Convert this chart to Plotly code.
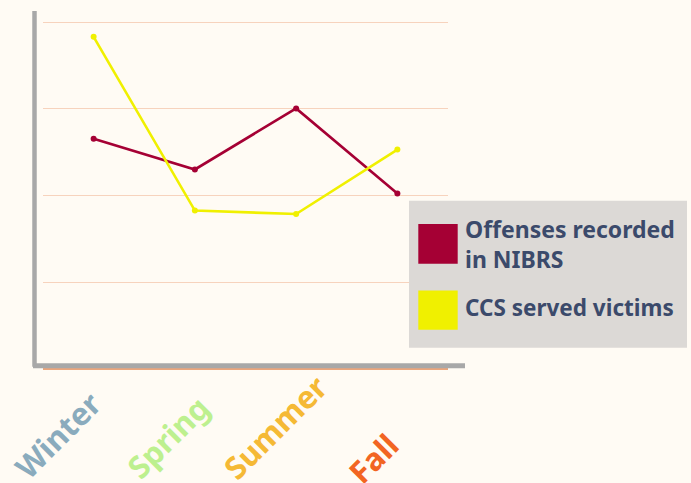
import plotly.graph_objects as go

# ---- data ----
seasons = ["Winter", "Spring", "Summer", "Fall"]
nibrs_offenses = [132.8, 115.1, 150.3, 101.3]
ccs_victims = [191.6, 91.4, 89.4, 126.6]
series_names = ["Offenses recorded<br>in NIBRS", "CCS served victims"]

# ---- style ----
BG = "#fffbf4"
RED = "#a50034"
YELLOW = "#f0f000"
GRID = "#f7d3bd"
ZERO = "#eba67c"
AXIS_GREY = "#a8a8a8"
LEGEND_BG = "#dcd9d6"
LEGEND_TXT = "#3b4a6b"
season_colors = ["#8aabbd", "#bdf08f", "#f5b935", "#f26522"]
FONT = "Noto Sans"

fig = go.Figure()
fig.add_trace(go.Scatter(x=seasons, y=nibrs_offenses, mode="lines+markers",
                         line=dict(color=RED, width=2.6), marker=dict(color=RED, size=6),
                         name=series_names[0], showlegend=False))
fig.add_trace(go.Scatter(x=seasons, y=ccs_victims, mode="lines+markers",
                         line=dict(color=YELLOW, width=2.6), marker=dict(color=YELLOW, size=6),
                         name=series_names[1], showlegend=False))

W, H = 691, 483
L, R, T = 43, 243, 20
ZERO_Y = 369.3
B = H - ZERO_Y
pw, ph = W - L - R, ZERO_Y - T
# 200 units span from y=369.3 to y=22.3
y_top = 200 * ph / (ZERO_Y - 22.3)


def px_x(p):
    return (p - L) / pw


def px_y(p):
    return (ZERO_Y - p) / ph


shapes = [
    # grey axis lines
    dict(type="line", xref="paper", yref="paper", x0=px_x(34.5), x1=px_x(34.5),
         y0=px_y(367), y1=px_y(11), line=dict(color=AXIS_GREY, width=4.5), layer="above"),
    dict(type="line", xref="paper", yref="paper", x0=px_x(33), x1=px_x(465),
         y0=px_y(366), y1=px_y(366), line=dict(color=AXIS_GREY, width=5), layer="above"),
    # legend box
    dict(type="rect", xref="paper", yref="paper", x0=px_x(409), x1=px_x(687),
         y0=px_y(348), y1=px_y(201), fillcolor=LEGEND_BG, line=dict(width=0), layer="above"),
    dict(type="rect", xref="paper", yref="paper", x0=px_x(418.3), x1=px_x(457.7),
         y0=px_y(264), y1=px_y(224.3), fillcolor=RED, line=dict(width=0), layer="above"),
    dict(type="rect", xref="paper", yref="paper", x0=px_x(418.3), x1=px_x(457.7),
         y0=px_y(330), y1=px_y(290.7), fillcolor=YELLOW, line=dict(width=0), layer="above"),
]

annotations = [
    dict(xref="paper", yref="paper", x=px_x(463), y=px_y(244), xanchor="left", yanchor="middle",
         text=series_names[0], showarrow=False, align="left",
         font=dict(family=FONT, size=23, color=LEGEND_TXT, weight="bold")),
    dict(xref="paper", yref="paper", x=px_x(463), y=px_y(308), xanchor="left", yanchor="middle",
         text=series_names[1], showarrow=False, align="left",
         font=dict(family=FONT, size=22.5, color=LEGEND_TXT, weight="bold")),
]

label_offsets = [(-36, -66), (-27, -68), (-21, -58), (-24, -89)]
for s, c, (dx, dy) in zip(seasons, season_colors, label_offsets):
    annotations.append(dict(xref="x", yref="paper", x=s, y=0, xshift=dx, yshift=dy,
                            xanchor="center", yanchor="middle", textangle=-45,
                            text=s, showarrow=False, borderpad=0,
                            font=dict(family=FONT, size=31, color=c, weight="bold")))

fig.update_layout(
    width=W, height=H,
    margin=dict(l=L, r=R, t=T, b=B, pad=0),
    paper_bgcolor=BG, plot_bgcolor=BG,
    shapes=shapes, annotations=annotations,
    xaxis=dict(range=[-0.5, 3.5], autorange=False, showticklabels=False, showgrid=False,
               zeroline=False, showline=False, ticks=""),
    yaxis=dict(range=[0, y_top], autorange=False, dtick=50, showticklabels=False,
               showgrid=True, gridcolor=GRID, gridwidth=1, zeroline=True,
               zerolinecolor=ZERO, zerolinewidth=1.5, showline=False, ticks=""),
)

fig.write_html(
    "out.html",
    config={"displayModeBar": False},
    post_script="document.body.style.margin='0';document.body.style.background='%s';" % BG,
)
